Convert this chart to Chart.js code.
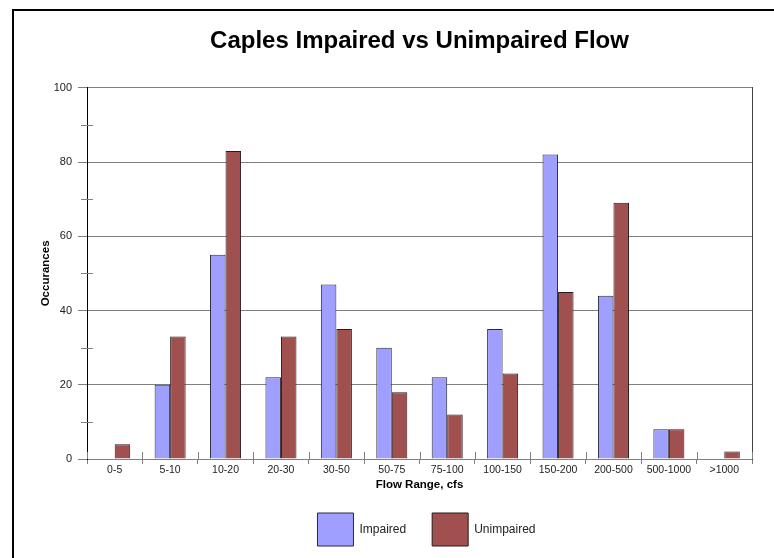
<!DOCTYPE html>
<html>
<head>
<meta charset="utf-8">
<title>Caples Impaired vs Unimpaired Flow</title>
<script src="https://cdn.jsdelivr.net/npm/chart.js@4"></script>
<style>
    body { margin:0; padding:0; background:#fff; }
    #Wrap { position:relative; width:774px; height:558px; overflow:hidden; }
    #Frame { position:absolute; left:12px; top:9px; width:800px; height:600px; border-top:2px solid #000; border-left:2px solid #000; }
    #chartflow { position:absolute; left:0; top:0; }
</style>
</head>
<body>
<div id="Wrap">
    <div id="Frame"></div>
    <canvas id="chartflow" width="774" height="558"></canvas>
</div>
<script>
// data
var labelrange = ["0-5","5-10","10-20","20-30","30-50","50-75","75-100","100-150","150-200","200-500","500-1000",">1000"];
var impaired   = [0, 20, 55, 22, 47, 30, 22, 35, 82, 44, 8, 0];
var unimpaired = [4, 33, 83, 33, 35, 18, 12, 23, 45, 69, 8, 2];
var minorticks = [10, 30, 50, 70, 90];

var FontName = "'Liberation Sans', Arial, sans-serif";

// small crossing tick marks (minor y ticks and the upper half of the x ticks)
var AxisMarks = {
    id: "axismarks",
    afterLayout: function(chart) {
        // legend in the original sits a bit right of the plot centre
        chart.legend.left += 7;
        chart.legend.right += 7;
    },
    afterDraw: function(chart) {
        var ctx = chart.ctx;
        var area = chart.chartArea;
        var sx = chart.scales.x;
        var sy = chart.scales.y;
        ctx.save();
        ctx.strokeStyle = "#808080";
        ctx.lineWidth = 1;
        for (var i = 0; i < minorticks.length; i++) {
            var py = Math.round(sy.getPixelForValue(minorticks[i])) + 0.5;
            ctx.beginPath();
            ctx.moveTo(area.left - 6, py);
            ctx.lineTo(area.left + 6, py);
            ctx.stroke();
        }
        var half = (sx.getPixelForValue(1) - sx.getPixelForValue(0)) / 2;
        for (var j = 0; j <= labelrange.length; j++) {
            var px = Math.round(sx.getPixelForValue(j) - half) + 0.5;
            ctx.beginPath();
            ctx.moveTo(px, area.bottom - 7);
            ctx.lineTo(px, area.bottom);
            ctx.stroke();
        }
        ctx.restore();
    }
};

function ShowChartFlow(){
    var ctx_chart = document.getElementById("chartflow").getContext("2d");
    var chart = new Chart(ctx_chart, {
        type: "bar",
        data: {
            labels: labelrange,
            datasets: [{
                label: "Impaired",
                data: impaired,
                backgroundColor: "#9f9fff",
                borderColor: "#2a2a3a",
                borderWidth: 1
            },{
                label: "Unimpaired",
                data: unimpaired,
                backgroundColor: "#a0504e",
                borderColor: "#2a1a1a",
                borderWidth: 1
            }]
        },
        options: {
            responsive: false,
            animation: false,
            categoryPercentage: 0.56,
            barPercentage: 1,
            layout: { padding: { left: 0, right: 22, top: 0, bottom: 2 } },
            plugins: {
                title: {
                    display: true,
                    fullSize: false,
                    text: "Caples Impaired vs Unimpaired Flow",
                    color: "#000",
                    font: { family: FontName, size: 24, weight: "bold" },
                    padding: { top: 27, bottom: 32 }
                },
                legend: {
                    display: true,
                    position: "bottom",
                    fullSize: false,
                    labels: {
                        boxWidth: 36,
                        boxHeight: 33,
                        padding: 26,
                        color: "#222",
                        font: { family: FontName, size: 12 }
                    }
                },
                tooltip: { enabled: false }
            },
            scales: {
                x: {
                    grid: { offset: true, drawOnChartArea: false, tickLength: 5, color: "#808080" },
                    border: { color: "#808080" },
                    ticks: { color: "#222", padding: 0, maxRotation: 0, autoSkip: false, font: { family: FontName, size: 10.5 } },
                    title: {
                        display: true,
                        text: "Flow Range, cfs",
                        color: "#000",
                        font: { family: FontName, size: 11.5, weight: "bold" },
                        padding: { top: 0, bottom: -5 }
                    },
                    afterFit: function(scale) { scale.height = 28; }
                },
                y: {
                    min: 0,
                    max: 100,
                    ticks: { stepSize: 20, color: "#222", padding: 6, font: { family: FontName, size: 11 } },
                    grid: { color: "#808080", tickLength: 9 },
                    border: { color: "#000" },
                    title: {
                        display: true,
                        text: "Occurances",
                        color: "#000",
                        font: { family: FontName, size: 11.5, weight: "bold" },
                        padding: { top: 39, bottom: 0 }
                    },
                    afterFit: function(scale) { scale.width = 87; }
                },
                y2: {
                    position: "right",
                    min: 0,
                    max: 100,
                    ticks: { display: false },
                    grid: { drawOnChartArea: false, drawTicks: false },
                    border: { color: "#444" },
                    afterFit: function(scale) { scale.width = 0; }
                }
            }
        },
        plugins: [AxisMarks]
    });
}

ShowChartFlow();
</script>
</body>
</html>
